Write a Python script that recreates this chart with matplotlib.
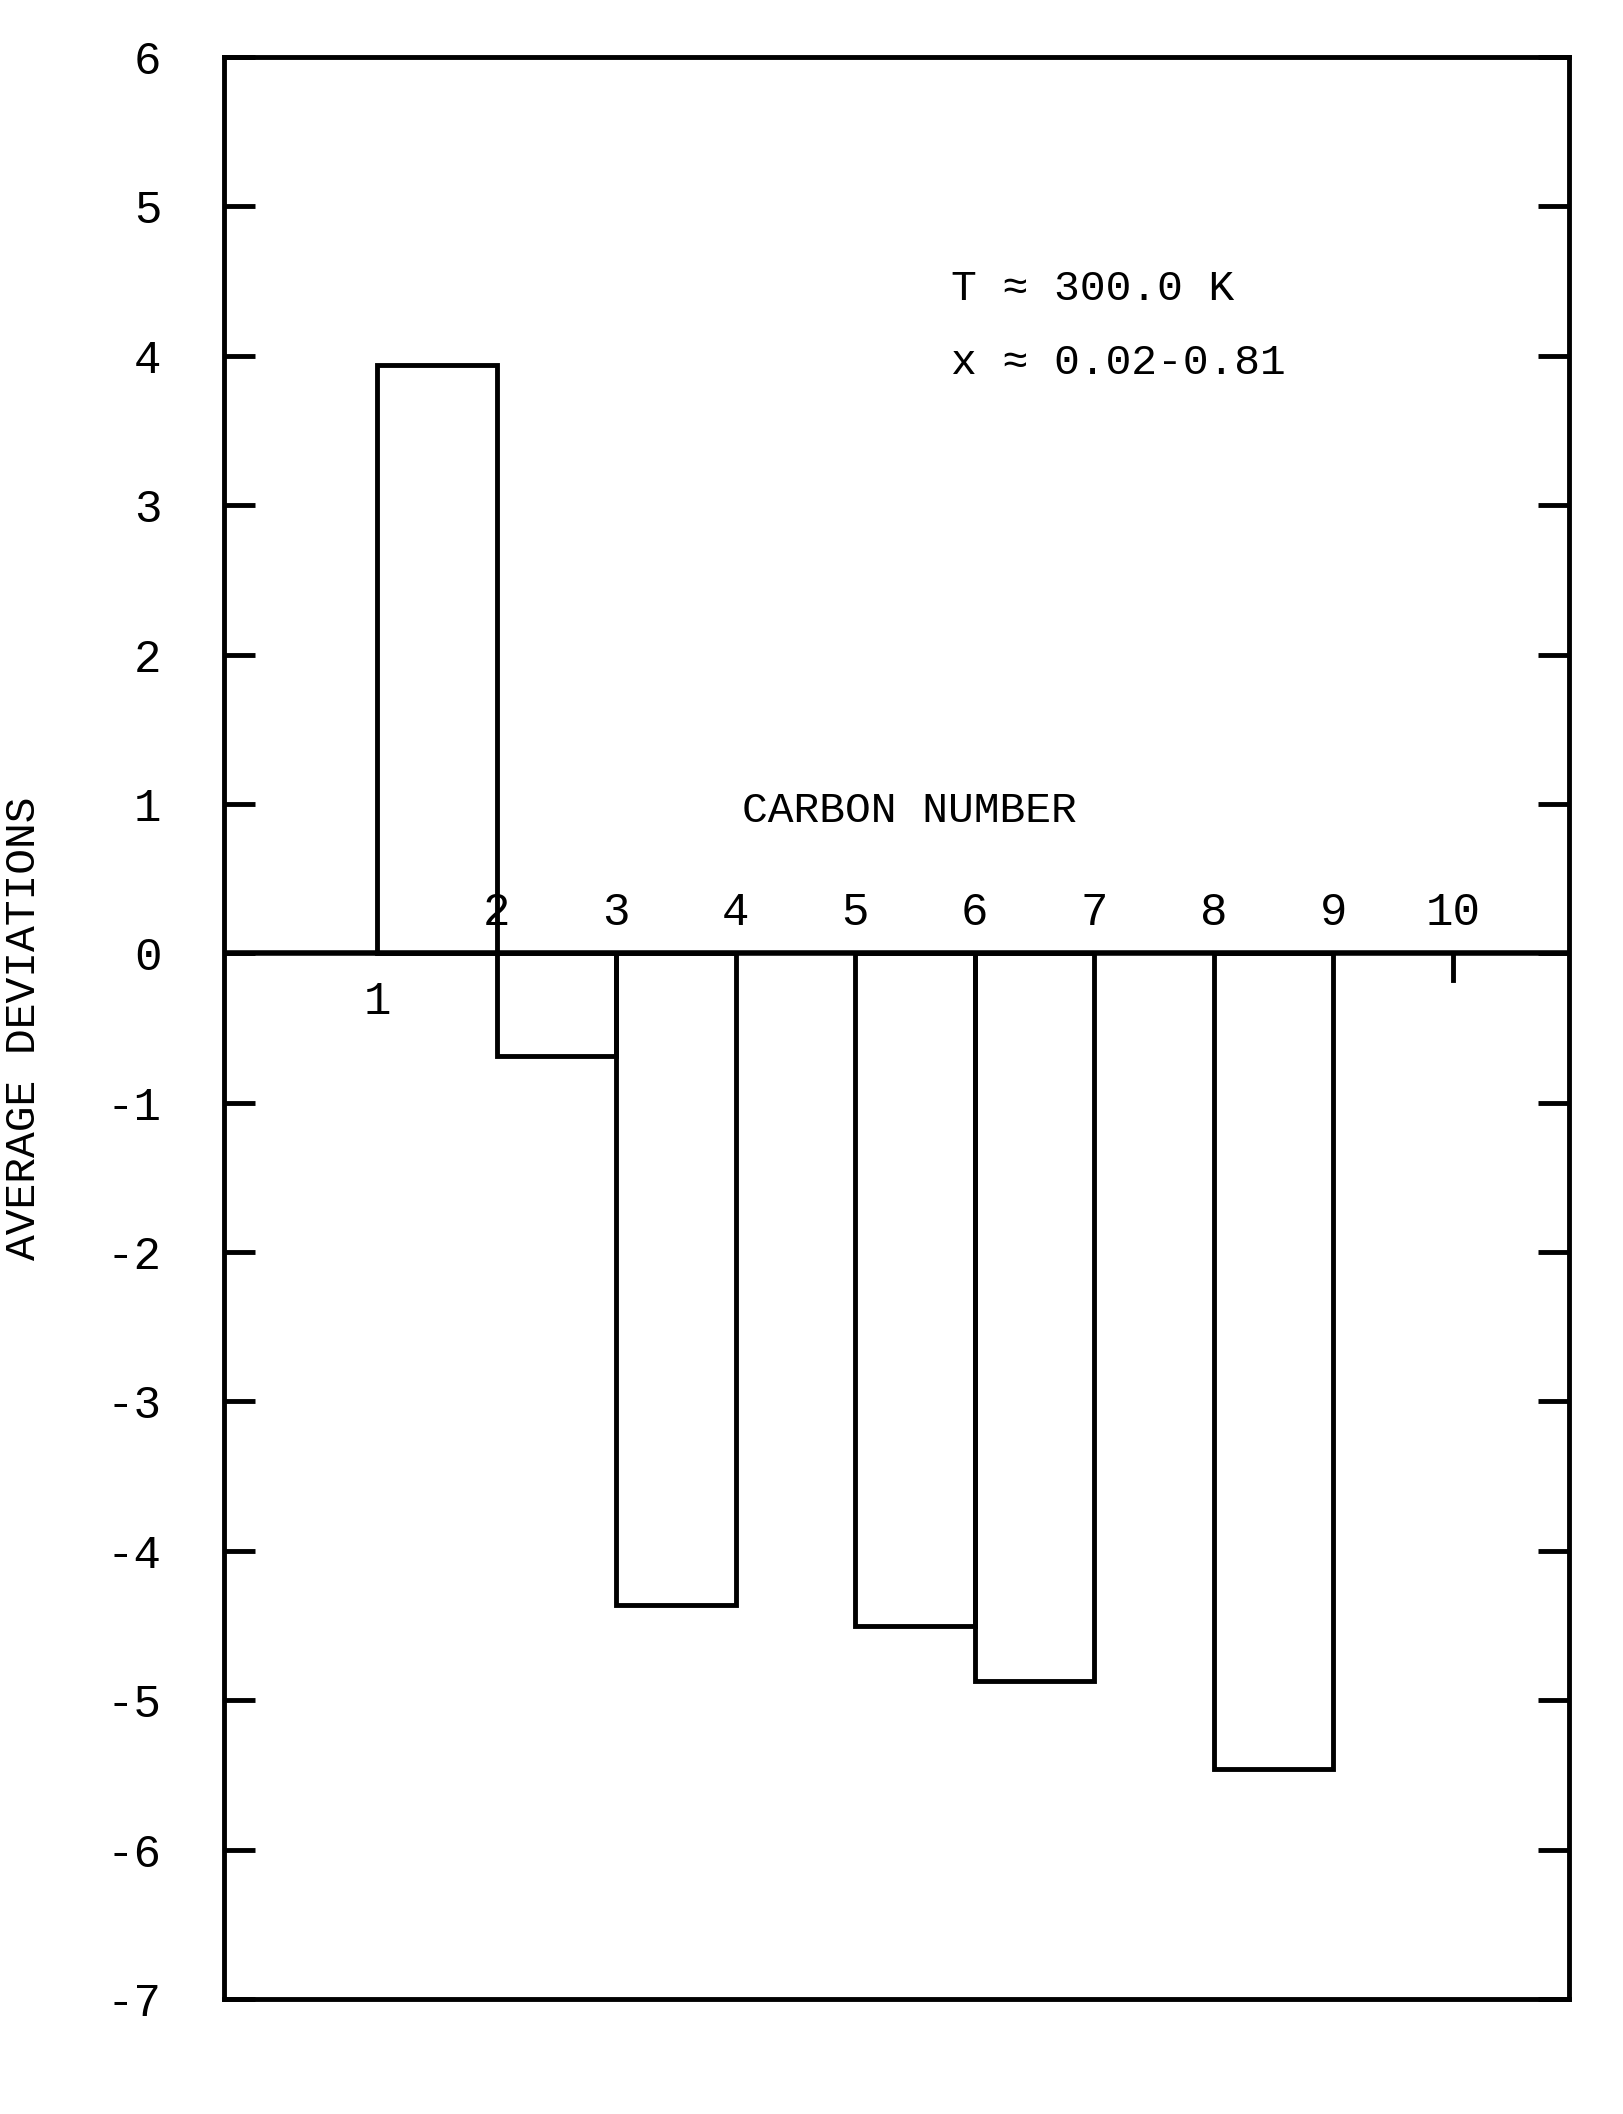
import matplotlib.pyplot as plt

carbon = [1, 2, 3, 5, 6, 8]
deviation = [3.94, -0.69, -4.36, -4.50, -4.87, -5.46]
xlabels = ["1", "2", "3", "4", "5", "6", "7", "8", "9", "10"]
yticks = [6, 5, 4, 3, 2, 1, 0, -1, -2, -3, -4, -5, -6, -7]

plt.rcParams['font.family'] = ['Liberation Mono', 'DejaVu Sans Mono']

fig = plt.figure(figsize=(16.24, 21.14), dpi=100)
ax = fig.add_axes([0.138, 0.0544, 0.828, 0.9186])

ax.bar(carbon, deviation, width=1, align='edge', fill=False,
       edgecolor='black', linewidth=3.5)
ax.axhline(0, color='black', linewidth=4)

ax.set_xlim(-0.28, 10.97)
ax.set_ylim(-7, 6)
ax.set_xticks([])
ax.set_yticks(yticks)
ax.set_yticklabels([str(v) for v in yticks])
ax.tick_params(axis='y', direction='in', length=22, width=3.5,
               labelsize=33, right=True, pad=45)
for s in ax.spines.values():
    s.set_linewidth(3.5)

for i, lab in enumerate(xlabels):
    n = i + 1
    if n == 1:
        ax.text(n, -0.18, lab, ha='center', va='top', fontsize=33)
    else:
        ax.text(n, 0.12, lab, ha='center', va='bottom', fontsize=33)
ax.plot([10, 10], [0, -0.18], color='black', linewidth=3.5)

ax.text(5.45, 0.95, "CARBON NUMBER", ha='center', va='center', fontsize=31)
ax.text(5.8, 4.45, "T \u2248 300.0 K", ha='left', va='center', fontsize=31)
ax.text(5.8, 3.95, "x \u2248 0.02-0.81", ha='left', va='center', fontsize=31)
ax.set_ylabel("AVERAGE DEVIATIONS", fontsize=31, labelpad=45)

fig.savefig("out.png", dpi=100)
